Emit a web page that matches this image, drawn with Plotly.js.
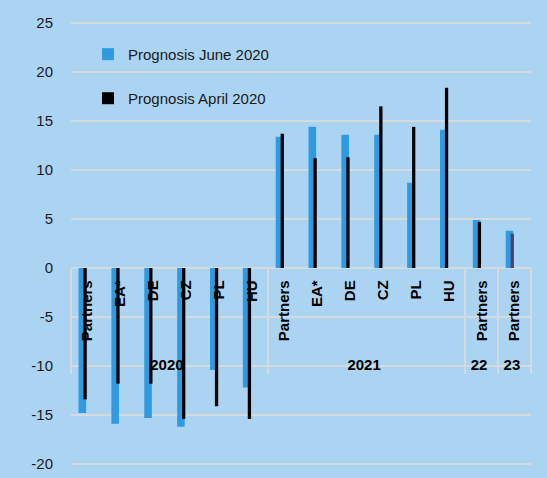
<!DOCTYPE html>
<html>
<head>
<meta charset="utf-8">
<script src="https://cdn.plot.ly/plotly-3.0.1.min.js"></script>
<style>html,body{margin:0;padding:0;background:#abd4f2;}#chart{width:547px;height:478px;}</style>
</head>
<body>
<div id="chart"></div>
<script>
var years = ['2020','2020','2020','2020','2020','2020','2021','2021','2021','2021','2021','2021','22','23'];
var regions = ['Partners','EA*','DE','CZ','PL','HU','Partners','EA*','DE','CZ','PL','HU','Partners','Partners'];
var juneValues = [-14.8,-15.9,-15.3,-16.2,-10.4,-12.2, 13.4,14.4,13.6,13.6,8.7,14.1, 4.9,3.8];
var aprilValues = [-13.4,-11.8,-11.8,-15.4,-14.1,-15.4, 13.7,11.2,11.3,16.5,14.4,18.4, 4.7,3.5];
var seriesNames = ['Prognosis June 2020','Prognosis April 2020'];
var yTicks = [-20,-15,-10,-5,0,5,10,15,20,25];

// small invisible padding so the rotated labels sit a little below the zero line
var regionLabels = regions.map(function(r){ return r + '\u00a0\u00a0'; });
var aprilColors = aprilValues.map(function(v,i){ return i === aprilValues.length-1 ? '#4f3f6e' : '#000000'; });

var traces = [
  {type:'bar', name:seriesNames[0], x:[years,regionLabels], y:juneValues,
   marker:{color:'#2f9ae0'}, width:0.23, offset:-0.27, legend:'legend', hoverinfo:'y'},
  {type:'bar', name:seriesNames[1], x:[years,regionLabels], y:aprilValues,
   marker:{color:aprilColors}, width:0.1, offset:-0.12, legend:'legend2', hoverinfo:'y'}
];

var fontFam = '"Liberation Sans", Arial, sans-serif';
var yMin = -20.2, yMax = 25.2;
var layout = {
  width:547, height:478,
  paper_bgcolor:'#abd4f2', plot_bgcolor:'#abd4f2',
  margin:{l:71, r:16, t:21, b:12},
  font:{family:fontFam, size:15, color:'#1a1a1a'},
  barmode:'overlay',
  showlegend:true,
  legend:{x:0.037, xanchor:'left', y:0.962, yanchor:'top', bgcolor:'rgba(0,0,0,0)', font:{size:15, family:fontFam, color:'#1a1a1a'}, itemwidth:30},
  legend2:{x:0.037, xanchor:'left', y:0.863, yanchor:'top', bgcolor:'rgba(0,0,0,0)', font:{size:15, family:fontFam, color:'#1a1a1a'}, itemwidth:30},
  yaxis:{range:[yMin,yMax], tickvals:yTicks, ticktext:yTicks.map(String), showgrid:true, gridcolor:'#d6dadf', gridwidth:2,
         zeroline:true, zerolinecolor:'#d6dadf', zerolinewidth:2, showline:false, ticks:'', ticklabelstandoff:17,
         tickfont:{size:15, family:fontFam, color:'#1a1a1a'}, fixedrange:true},
  xaxis:{type:'multicategory', anchor:'free', position:(0-yMin)/(yMax-yMin), showgrid:false, zeroline:false, showline:false,
         ticks:'',
         tickangle:-90, tickfont:{size:15, family:fontFam, color:'#000000', weight:'bold'},
         showdividers:true, dividercolor:'#d6dadf', dividerwidth:2, fixedrange:true}
};

Plotly.newPlot('chart', traces, layout, {staticPlot:true, displayModeBar:false});
</script>
</body>
</html>
